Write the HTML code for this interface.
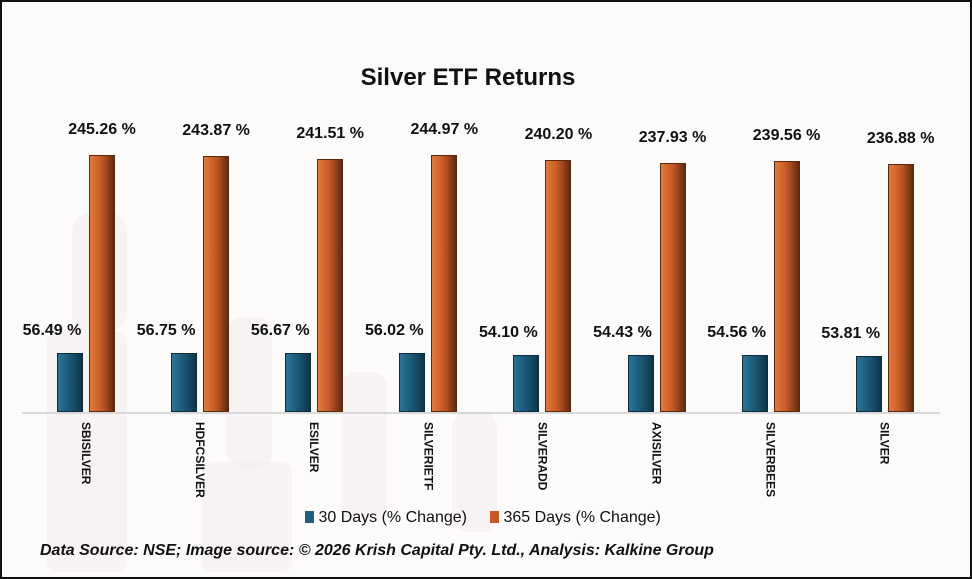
<!DOCTYPE html>
<html><head><style>
body{margin:0;background:#fff}
#c{position:relative;width:972px;height:579px;background:#fcfbf9;overflow:hidden;font-family:"Liberation Sans",sans-serif;box-sizing:border-box;border:2px solid #111}
.t{position:absolute;left:0;width:932px;top:62px;text-align:center;font-size:24px;font-weight:bold;color:#111}
.bar{position:absolute}
.v{position:absolute;font-size:16px;font-weight:bold;color:#111;width:90px;text-align:center}
.lab{position:absolute;top:420px;font-size:12px;font-weight:bold;writing-mode:vertical-rl;color:#111}
.base{position:absolute;left:20px;width:918px;top:410px;height:2px;background:#d9d9d9}
.leg{position:absolute;top:507px;font-size:16px;color:#111}
.src{position:absolute;left:38px;top:540px;font-size:16px;font-weight:bold;font-style:italic;color:#111}
.ghost{position:absolute;background:#f1efec;opacity:.6}
</style></head><body><div id="c">
<div class="ghost" style="left:45px;top:330px;width:80px;height:240px;border-radius:10px"></div>
<div class="ghost" style="left:70px;top:210px;width:55px;height:120px;border-radius:20px"></div>
<div class="ghost" style="left:200px;top:460px;width:90px;height:110px;border-radius:10px"></div>
<div class="ghost" style="left:225px;top:315px;width:45px;height:150px;border-radius:15px"></div>
<div class="ghost" style="left:340px;top:370px;width:45px;height:150px;border-radius:15px"></div>
<div class="ghost" style="left:450px;top:410px;width:45px;height:120px;border-radius:15px"></div>
<div class="t">Silver ETF Returns</div>
<div class="base"></div>
<div id="g"></div>
<div class="leg" style="left:303px"><span style="display:inline-block;width:9px;height:12px;background:#1f5f7e;vertical-align:-1px"></span> 30 Days (% Change)</div>
<div class="leg" style="left:488px"><span style="display:inline-block;width:9px;height:12px;background:#c85a23;vertical-align:-1px"></span> 365 Days (% Change)</div>
<div class="src">Data Source: NSE; Image source: © 2026 Krish Capital Pty. Ltd., Analysis: Kalkine Group</div>
</div>
<script>
var d=[["SBISILVER",56.49,245.26],["HDFCSILVER",56.75,243.87],["ESILVER",56.67,241.51],["SILVERIETF",56.02,244.97],["SILVERADD",54.10,240.20],["AXISILVER",54.43,237.93],["SILVERBEES",54.56,239.56],["SILVER",53.81,236.88]];
var h="",k=1.048,b=410;
d.forEach(function(r,i){var x=55+i*114.1;
var hb=r[1]*k,ho=r[2]*k;
h+='<div class="bar" style="left:'+x+'px;top:'+(b-hb)+'px;width:26px;height:'+hb+'px;background:linear-gradient(90deg,#2a7498,#1d5d7c 40%,#164a63 70%,#0f3447);border:1px solid #0c2c3c;box-sizing:border-box"></div>';
h+='<div class="bar" style="left:'+(x+32)+'px;top:'+(b-ho)+'px;width:26px;height:'+ho+'px;background:linear-gradient(90deg,#e07a3e,#cc5f28 40%,#a84a1e 65%,#5e2a12);border:1px solid #5a2a10;box-sizing:border-box"></div>';
h+='<div class="v" style="left:'+(x-50)+'px;top:'+(b-hb-31)+'px">'+r[1].toFixed(2)+' %</div>';
h+='<div class="v" style="left:'+(x)+'px;top:'+(b-ho-34)+'px">'+r[2].toFixed(2)+' %</div>';
h+='<div class="lab" style="left:'+(x+22)+'px">'+r[0]+'</div>';});
document.getElementById("g").innerHTML=h;
</script></body></html>
